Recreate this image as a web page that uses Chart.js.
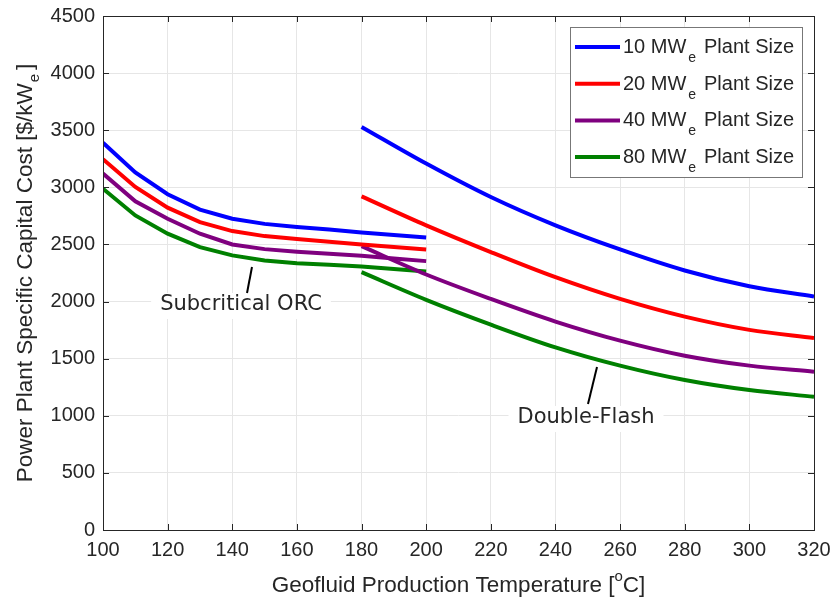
<!DOCTYPE html>
<html>
<head>
<meta charset="utf-8">
<script src="https://cdn.jsdelivr.net/npm/chart.js@4.4.0/dist/chart.umd.min.js"></script>
<style>
  html, body { margin: 0; padding: 0; background: #fff; }
  #wrap { width: 834px; height: 603px; position: relative; }
</style>
</head>
<body>
<div id="wrap"><canvas id="costChart" width="834" height="603"></canvas></div>
<script>
// plant sizes and colours
const plantSizes = ["10", "20", "40", "80"];
const lineColors = ["#0000ff", "#ff0000", "#7f007f", "#008000"];

// subcritical ORC branch
const orcTemps = [100, 110, 120, 130, 140, 150, 160, 170, 180, 190, 200];
const orc10 = [3390, 3130, 2940, 2805, 2725, 2680, 2652, 2630, 2605, 2582, 2560];
const orc20 = [3246, 3003, 2822, 2696, 2617, 2573, 2547, 2523, 2500, 2477, 2456];
const orc40 = [3120, 2877, 2725, 2594, 2500, 2459, 2436, 2418, 2401, 2377, 2354];
const orc80 = [2988, 2754, 2594, 2477, 2404, 2360, 2336, 2322, 2307, 2284, 2263];

// double-flash branch
const flashTemps = [180, 200, 220, 240, 260, 280, 300, 320];
const flash10 = [3529, 3208, 2915, 2667, 2456, 2272, 2134, 2044];
const flash20 = [2921, 2667, 2433, 2213, 2023, 1868, 1752, 1681];
const flash40 = [2485, 2237, 2023, 1825, 1658, 1526, 1439, 1386];
const flash80 = [2257, 2015, 1798, 1599, 1439, 1313, 1225, 1167];

const xTicks = [100, 120, 140, 160, 180, 200, 220, 240, 260, 280, 300, 320];
const yTicks = [0, 500, 1000, 1500, 2000, 2500, 3000, 3500, 4000, 4500];

const orcSeries = [orc10, orc20, orc40, orc80];
const flashSeries = [flash10, flash20, flash40, flash80];

const toPoints = (xs, ys) => xs.map((x, i) => ({ x: x, y: ys[i] }));

let datasets = [];
plantSizes.forEach((size, i) => {
  datasets.push({
    label: size + " MWe ORC",
    data: toPoints(orcTemps, orcSeries[i]),
    borderColor: lineColors[i],
    borderWidth: 4,
    pointRadius: 0,
    tension: 0,
  });
  datasets.push({
    label: size + " MWe Flash",
    data: toPoints(flashTemps, flashSeries[i]),
    borderColor: lineColors[i],
    borderWidth: 4,
    pointRadius: 0,
    cubicInterpolationMode: "monotone",
  });
});

const textColor = "#262626";
const pad = { left: 0, top: 16, right: 20, bottom: 0 };

// frame, inward ticks, axis titles, annotations and legend
const decorPlugin = {
  id: "decor",
  afterDatasetsDraw(chart) {
    const ctx = chart.ctx;
    ctx.save();

    // annotation labels
    const notes = [
      { text: "Subcritical ORC", tx: 241, ty: 305, from: [252, 267], to: [247, 293] },
      { text: "Double-Flash", tx: 586, ty: 418, from: [597, 367], to: [588, 404] },
    ];
    ctx.font = "21px 'DejaVu Sans'";
    notes.forEach((n) => {
      const w = ctx.measureText(n.text).width;
      ctx.fillStyle = "#fff";
      ctx.fillRect(n.tx - w / 2 - 9, n.ty - 12, w + 18, 26);
      ctx.fillStyle = textColor;
      ctx.textAlign = "center";
      ctx.textBaseline = "middle";
      ctx.fillText(n.text, n.tx, n.ty);
      ctx.strokeStyle = "#000";
      ctx.lineWidth = 2;
      ctx.beginPath();
      ctx.moveTo(n.from[0], n.from[1]);
      ctx.lineTo(n.to[0], n.to[1]);
      ctx.stroke();
    });
    ctx.restore();
  },
  afterDraw(chart) {
    const ctx = chart.ctx;
    const a = chart.chartArea;
    const x = chart.scales.x;
    const y = chart.scales.y;
    ctx.save();

    // box and ticks
    ctx.strokeStyle = textColor;
    ctx.lineWidth = 1;
    ctx.strokeRect(Math.round(a.left) + 0.5, Math.round(a.top) + 0.5,
      Math.round(a.right - a.left), Math.round(a.bottom - a.top));
    ctx.beginPath();
    xTicks.forEach((t) => {
      const px = Math.round(x.getPixelForValue(t)) + 0.5;
      ctx.moveTo(px, a.bottom); ctx.lineTo(px, a.bottom - 6);
      ctx.moveTo(px, a.top); ctx.lineTo(px, a.top + 6);
    });
    yTicks.forEach((t) => {
      const py = Math.round(y.getPixelForValue(t)) + 0.5;
      ctx.moveTo(a.left, py); ctx.lineTo(a.left + 6, py);
      ctx.moveTo(a.right, py); ctx.lineTo(a.right - 6, py);
    });
    ctx.stroke();

    ctx.fillStyle = textColor;
    ctx.textBaseline = "alphabetic";
    ctx.textAlign = "left";
    const mainFont = "20px 'Liberation Sans'";
    const smallFont = "14px 'Liberation Sans'";
    const titleFont = "22.5px 'Liberation Sans'";
    const titleSmall = "15px 'Liberation Sans'";

    // x title
    ctx.font = titleFont;
    const xt1 = "Geofluid Production Temperature [";
    const xt2 = "C]";
    const w1 = ctx.measureText(xt1).width;
    const w2 = ctx.measureText(xt2).width;
    ctx.font = titleSmall;
    const wo = ctx.measureText("o").width;
    let sx = (a.left + a.right) / 2 - (w1 + wo + w2) / 2;
    const base = 592;
    ctx.font = titleFont;
    ctx.fillText(xt1, sx, base);
    ctx.font = titleSmall;
    ctx.fillText("o", sx + w1, base - 11);
    ctx.font = titleFont;
    ctx.fillText(xt2, sx + w1 + wo, base);

    // y title
    ctx.save();
    ctx.translate(32, (a.top + a.bottom) / 2);
    ctx.rotate(-Math.PI / 2);
    const yt1 = "Power Plant Specific Capital Cost [$/kW";
    ctx.font = titleFont;
    const yw1 = ctx.measureText(yt1).width;
    const yw3 = ctx.measureText("]").width;
    ctx.font = titleSmall;
    const ywe = ctx.measureText("e").width;
    let sy = -(yw1 + ywe + 5 + yw3) / 2;
    ctx.font = titleFont;
    ctx.fillText(yt1, sy, 0);
    ctx.font = titleSmall;
    ctx.fillText("e", sy + yw1 + 1, 7);
    ctx.font = titleFont;
    ctx.fillText("]", sy + yw1 + ywe + 5, 0);
    ctx.restore();

    // legend
    const lx = 570, ly = 27, lw = 232, lh = 150;
    ctx.fillStyle = "#fff";
    ctx.fillRect(lx, ly, lw, lh);
    ctx.strokeStyle = "#777";
    ctx.lineWidth = 1;
    ctx.strokeRect(lx + 0.5, ly + 0.5, lw, lh);
    plantSizes.forEach((size, i) => {
      const cy = 46 + i * 36.7;
      ctx.strokeStyle = lineColors[i];
      ctx.lineWidth = 4;
      ctx.beginPath();
      ctx.moveTo(575, cy + 1);
      ctx.lineTo(620, cy + 1);
      ctx.stroke();
      ctx.fillStyle = textColor;
      ctx.font = mainFont;
      const t1 = size + " MW";
      const tw = ctx.measureText(t1).width;
      ctx.fillText(t1, 623, cy + 7);
      ctx.font = smallFont;
      ctx.fillText("e", 623 + tw + 2, cy + 16);
      ctx.font = mainFont;
      ctx.fillText("Plant Size", 704, cy + 7);
    });

    ctx.restore();
  },
};

let ctx = document.getElementById("costChart").getContext("2d");
new Chart(ctx, {
  type: "line",
  data: { datasets: datasets },
  options: {
    responsive: false,
    animation: false,
    layout: { padding: pad },
    plugins: {
      legend: { display: false },
      tooltip: { enabled: false },
    },
    scales: {
      x: {
        type: "linear",
        min: 100,
        max: 320,
        afterBuildTicks: (scale) => {
          scale.ticks = xTicks.map((v) => ({ value: v }));
        },
        afterFit: (scale) => {
          scale.height = 603 - 530;
          scale.paddingLeft = 0;
          scale.paddingRight = 0;
        },
        grid: { color: "#e6e6e6", drawTicks: false },
        border: { display: false },
        ticks: {
          padding: 8,
          color: textColor,
          font: { family: "Liberation Sans", size: 20 },
          maxRotation: 0,
          callback: (v) => String(v),
        },
      },
      y: {
        min: 0,
        max: 4500,
        afterBuildTicks: (scale) => {
          scale.ticks = yTicks.map((v) => ({ value: v }));
        },
        afterFit: (scale) => {
          scale.width = 103;
          scale.paddingTop = 0;
          scale.paddingBottom = 0;
        },
        grid: { color: "#e6e6e6", drawTicks: false },
        border: { display: false },
        ticks: {
          padding: 8,
          color: textColor,
          font: { family: "Liberation Sans", size: 20 },
          callback: (v) => String(v),
        },
      },
    },
  },
  plugins: [decorPlugin],
});
</script>
</body>
</html>
